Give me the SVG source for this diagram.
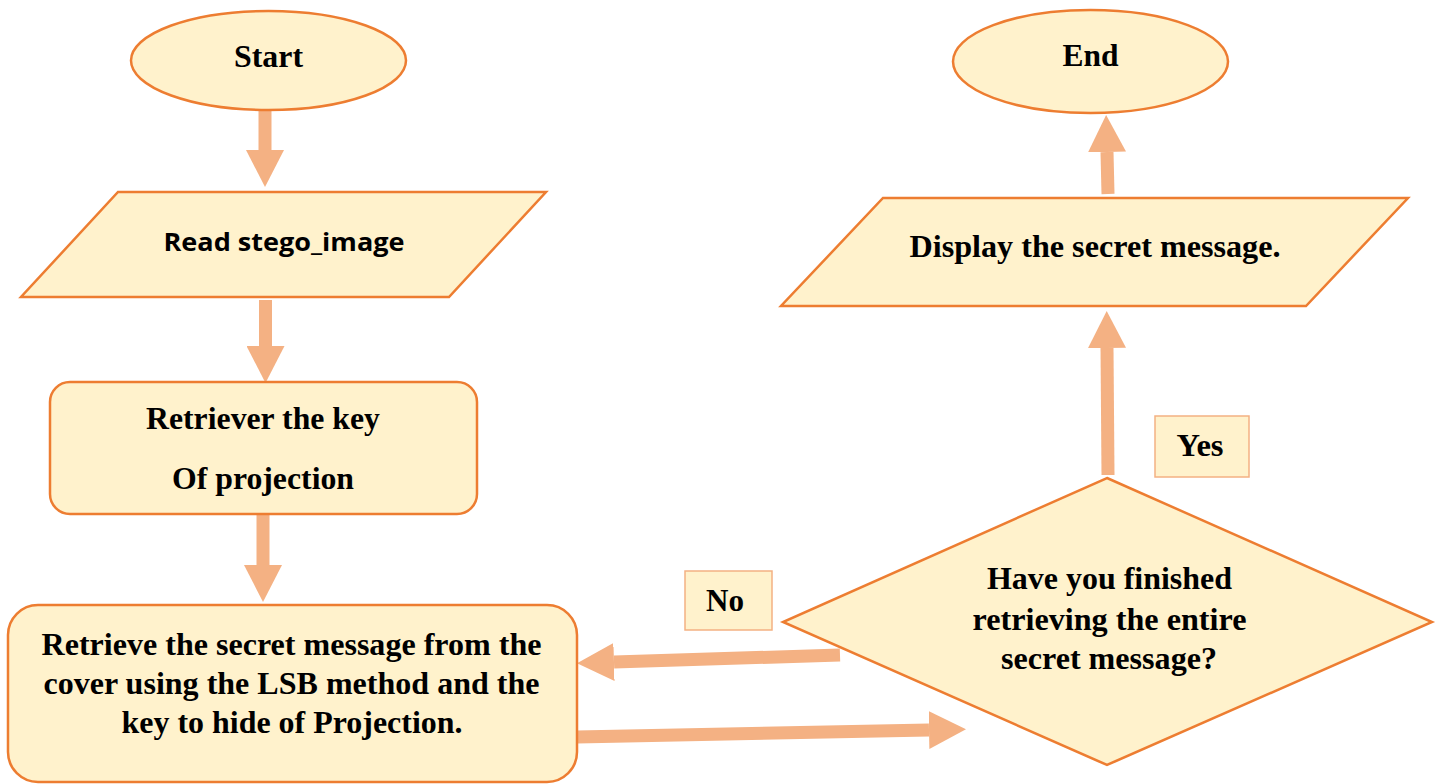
<svg xmlns="http://www.w3.org/2000/svg" width="1439" height="784" viewBox="0 0 1439 784">
  <style>
    .shape { fill: #FFF2CC; stroke: #ED7D31; stroke-width: 2.5; }
    .tag { fill: #FFF2CC; stroke: #F4B183; stroke-width: 1.5; }
    .flow { fill: none; stroke: #F4B183; stroke-width: 13; }
    .t { font-family: "Liberation Serif", "Times New Roman", serif; font-weight: bold; font-size: 31.5px; fill: #000; text-anchor: middle; }
    .s { font-family: "Open Sans", "Liberation Sans", sans-serif; font-weight: bold; font-size: 25px; fill: #000; text-anchor: middle; }
  </style>
  <defs>
    <marker id="head" markerUnits="userSpaceOnUse" viewBox="0 0 37 38" refX="0" refY="19" markerWidth="37" markerHeight="38" orient="auto">
      <path d="M0,0 L37,19 L0,38 Z" fill="#F4B183"/>
    </marker>
  </defs>

  <rect width="1439" height="784" fill="#FFFFFF"/>

  <!-- connectors -->
  <g id="connectors">
    <path class="flow" d="M265,110 L265,150" marker-end="url(#head)"/>
    <path class="flow" d="M265.5,300 L265.5,346" marker-end="url(#head)"/>
    <path class="flow" d="M263,508 L263,565" marker-end="url(#head)"/>
    <path class="flow" d="M840,655 L614,662" marker-end="url(#head)"/>
    <path class="flow" d="M577,737 L929,730" marker-end="url(#head)"/>
    <path class="flow" d="M1108,475 L1107,348" marker-end="url(#head)"/>
    <path class="flow" d="M1108,194 L1107,152" marker-end="url(#head)"/>
  </g>

  <g id="start">
    <ellipse class="shape" cx="268.5" cy="60.5" rx="137.5" ry="49.5"/>
    <text class="t" x="268.5" y="67" textLength="69" lengthAdjust="spacingAndGlyphs">Start</text>
  </g>

  <g id="read-stego">
    <polygon class="shape" points="118,192 546,192 449,297 21,297"/>
    <text class="s" x="284" y="251" textLength="241" lengthAdjust="spacingAndGlyphs">Read stego_image</text>
  </g>

  <g id="retrieve-key">
    <rect class="shape" x="50" y="382" width="427" height="132" rx="20"/>
    <text class="t" x="263" y="429" textLength="234" lengthAdjust="spacingAndGlyphs">Retriever the key</text>
    <text class="t" x="263" y="489" textLength="182" lengthAdjust="spacingAndGlyphs">Of projection</text>
  </g>

  <g id="retrieve-message">
    <rect class="shape" x="8" y="605" width="569" height="177" rx="30"/>
    <text class="t" x="291.5" y="655" textLength="500" lengthAdjust="spacingAndGlyphs">Retrieve the secret message from the</text>
    <text class="t" x="291.5" y="694" textLength="496" lengthAdjust="spacingAndGlyphs">cover using the LSB method and the</text>
    <text class="t" x="292" y="733" textLength="341" lengthAdjust="spacingAndGlyphs">key to hide of Projection.</text>
  </g>

  <g id="decision">
    <polygon class="shape" points="1107,478 1432,622 1107,765 783,622"/>
    <text class="t" x="1109.5" y="589" textLength="245" lengthAdjust="spacingAndGlyphs">Have you finished</text>
    <text class="t" x="1109.5" y="630" textLength="274" lengthAdjust="spacingAndGlyphs">retrieving the entire</text>
    <text class="t" x="1109" y="669" textLength="216" lengthAdjust="spacingAndGlyphs">secret message?</text>
  </g>

  <g id="label-no">
    <rect class="tag" x="685" y="571" width="87" height="59"/>
    <text class="t" x="725" y="611" textLength="38" lengthAdjust="spacingAndGlyphs">No</text>
  </g>

  <g id="label-yes">
    <rect class="tag" x="1155" y="416" width="94" height="61"/>
    <text class="t" x="1200" y="456" textLength="47" lengthAdjust="spacingAndGlyphs">Yes</text>
  </g>

  <g id="display">
    <polygon class="shape" points="883,198 1408,198 1306,306 781,306"/>
    <text class="t" x="1095" y="257" textLength="371" lengthAdjust="spacingAndGlyphs">Display the secret message.</text>
  </g>

  <g id="end">
    <ellipse class="shape" cx="1090.5" cy="61.5" rx="137.5" ry="51.5"/>
    <text class="t" x="1090.5" y="66" textLength="56" lengthAdjust="spacingAndGlyphs">End</text>
  </g>
</svg>
